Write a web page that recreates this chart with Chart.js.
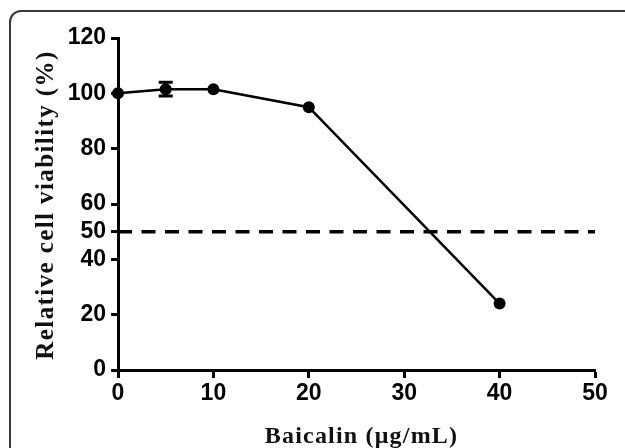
<!DOCTYPE html>
<html>
<head>
<meta charset="utf-8">
<script src="https://cdn.jsdelivr.net/npm/chart.js@4.4.1/dist/chart.umd.min.js"></script>
<style>
  html, body { margin: 0; padding: 0; background: #fff; overflow: hidden; }
  #wrap { position: relative; width: 625px; height: 448px; }
  #frame {
    position: absolute; left: 9px; top: 10px; width: 700px; height: 500px;
    border: 2px solid #3a3a3a; border-top-left-radius: 12px; box-sizing: border-box;
  }
  #c { position: absolute; left: 0; top: 0; }
</style>
</head>
<body>
<div id="wrap">
  <div id="frame"></div>
  <canvas id="c" width="625" height="448"></canvas>
</div>
<script>
// data
var concentrations = [0, 5, 10, 20, 40];
var viability = [100, 101.5, 101.5, 95, 24];
var viabilityErr = [0, 2.5, 0, 0, 0];
var cutoffX = [0, 50];
var cutoffY = [50, 50];
var yTicks = [0, 20, 40, 50, 60, 80, 100, 120];
var xTicks = [0, 10, 20, 30, 40, 50];
var xTitle = 'Baicalin (\u03bcg/mL)';
var yTitle = 'Relative cell viability (%)';

var tickFont = { family: "'Liberation Sans', Arial, sans-serif", size: 23, weight: 'bold' };
var serif = "'Liberation Serif', 'Times New Roman', serif";

function pts(xs, ys) {
  return xs.map(function (x, i) { return { x: x, y: ys[i] }; });
}

// simple error bars, drawn with the chart's own scales
var errorBars = {
  id: 'errorBars',
  afterDatasetsDraw: function (chart) {
    var ctx = chart.ctx;
    var xs = chart.scales.x, ys = chart.scales.y;
    ctx.save();
    ctx.strokeStyle = '#000';
    for (var i = 0; i < concentrations.length; i++) {
      if (!viabilityErr[i]) continue;
      var px = xs.getPixelForValue(concentrations[i]);
      var top = ys.getPixelForValue(viability[i] + viabilityErr[i]);
      var bot = ys.getPixelForValue(viability[i] - viabilityErr[i]);
      ctx.lineWidth = 4;
      ctx.beginPath();
      ctx.moveTo(px, top); ctx.lineTo(px, bot);
      ctx.stroke();
      ctx.lineWidth = 3;
      ctx.beginPath();
      ctx.moveTo(px - 7, top); ctx.lineTo(px + 7, top);
      ctx.moveTo(px - 7, bot); ctx.lineTo(px + 7, bot);
      ctx.stroke();
    }
    ctx.restore();
  }
};

// axis titles with letter spacing (chart.js fonts have no letterSpacing)
var axisTitles = {
  id: 'axisTitles',
  afterDraw: function (chart) {
    var ctx = chart.ctx, area = chart.chartArea;
    ctx.save();
    ctx.fillStyle = '#111';
    ctx.textAlign = 'center';
    ctx.textBaseline = 'middle';
    ctx.font = 'bold 24px ' + serif;
    ctx.letterSpacing = '1.2px';
    ctx.fillText(xTitle, (area.left + area.right) / 2 + 5, 437);
    ctx.translate(47, (area.top + area.bottom) / 2 + 1);
    ctx.rotate(-Math.PI / 2);
    ctx.font = 'bold 25px ' + serif;
    ctx.letterSpacing = '1.4px';
    ctx.fillText(yTitle, 0, 0);
    ctx.restore();
  }
};

new Chart(document.getElementById('c').getContext('2d'), {
  type: 'line',
  data: {
    datasets: [
      {
        label: 'viability',
        data: pts(concentrations, viability),
        borderColor: '#000',
        backgroundColor: '#000',
        borderWidth: 2.5,
        pointRadius: 6,
        pointBackgroundColor: '#000',
        pointBorderWidth: 0,
        tension: 0,
        clip: false
      },
      {
        label: 'cutoff',
        data: pts(cutoffX, cutoffY),
        borderColor: '#000',
        borderWidth: 3.5,
        borderDash: [14, 9.5],
        pointRadius: 0,
        clip: false
      }
    ]
  },
  options: {
    responsive: false,
    animation: false,
    layout: { padding: { left: 0, right: 30, top: 38, bottom: 0 } },
    plugins: { legend: { display: false }, tooltip: { enabled: false } },
    scales: {
      x: {
        type: 'linear',
        min: 0,
        max: 50,
        afterBuildTicks: function (axis) {
          axis.ticks = xTicks.map(function (v) { return { value: v }; });
        },
        afterFit: function (axis) { axis.height = 78; },
        border: { color: '#000', width: 3 },
        grid: { drawOnChartArea: false, drawTicks: true, tickLength: 8, tickWidth: 3, tickColor: '#000' },
        ticks: { color: '#000', font: tickFont, padding: 2, maxRotation: 0 }
      },
      y: {
        min: 0,
        max: 120,
        afterBuildTicks: function (axis) {
          axis.ticks = yTicks.map(function (v) { return { value: v }; });
        },
        afterFit: function (axis) { axis.width = 118; },
        border: { color: '#000', width: 3 },
        grid: { drawOnChartArea: false, drawTicks: true, tickLength: 7, tickWidth: 3, tickColor: '#000' },
        ticks: { color: '#000', font: tickFont, padding: 5 }
      }
    }
  },
  plugins: [errorBars, axisTitles]
});
</script>
</body>
</html>
